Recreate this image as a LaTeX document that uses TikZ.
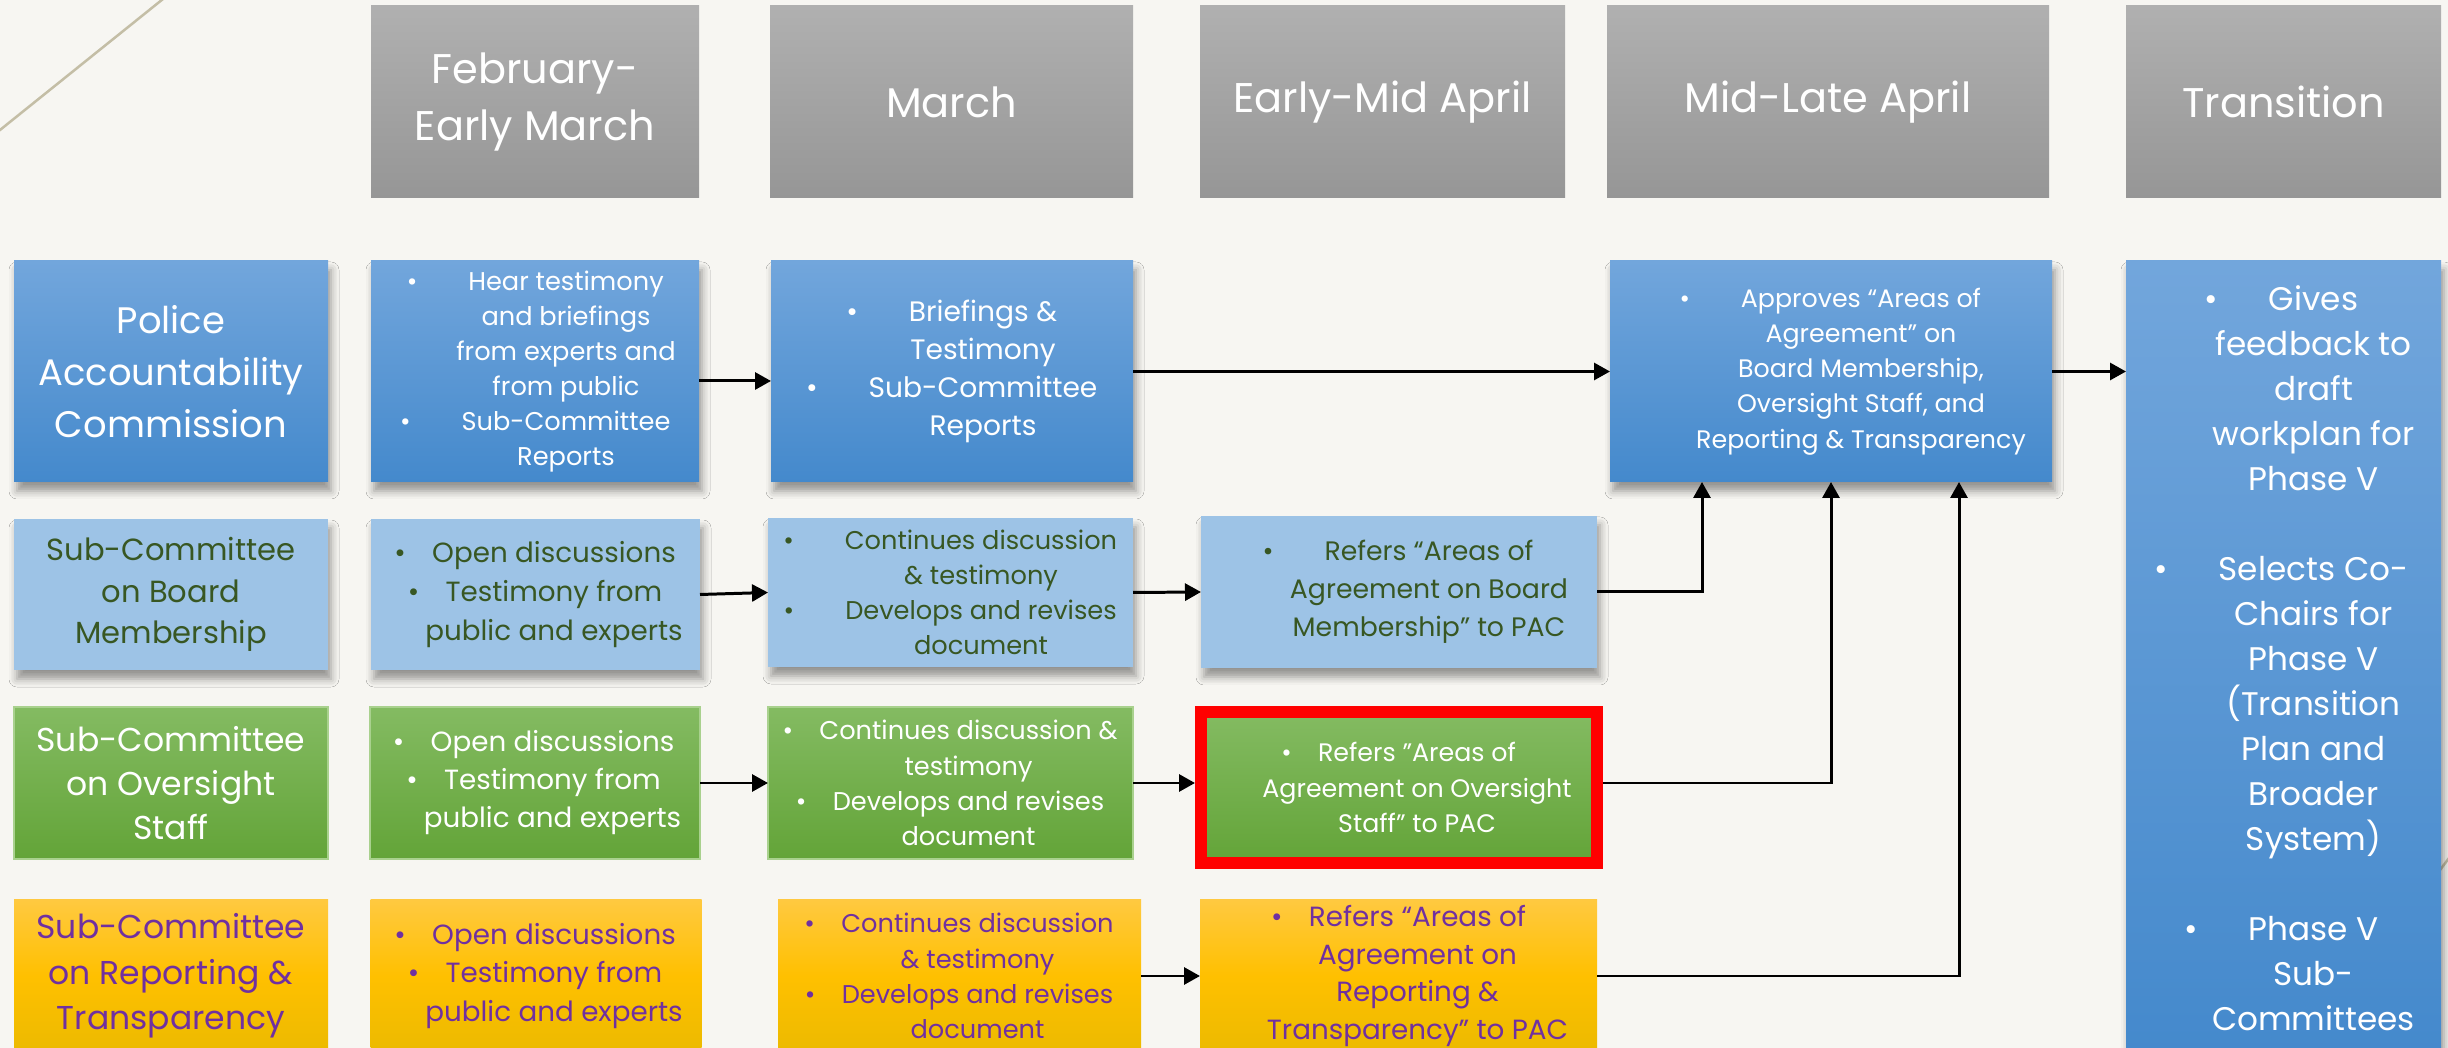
\documentclass[tikz,border=0pt]{standalone}
\usepackage{fontspec}
\setmainfont{Poppins}
\usetikzlibrary{arrows.meta,shadows.blur}

\definecolor{bgcol}{RGB}{247,246,242}
\definecolor{hdrtop}{RGB}{176,176,176}
\definecolor{hdrbot}{RGB}{150,150,150}
\definecolor{pactop}{RGB}{114,166,220}
\definecolor{pacbot}{RGB}{68,137,204}
\definecolor{boardfill}{RGB}{157,195,230}
\definecolor{boardtxt}{RGB}{56,87,35}
\definecolor{overtop}{RGB}{132,187,98}
\definecolor{overbot}{RGB}{99,164,56}
\definecolor{overline}{RGB}{169,209,142}
\definecolor{reptop}{RGB}{255,201,64}
\definecolor{repmid}{RGB}{255,192,0}
\definecolor{repbot}{RGB}{236,186,0}
\definecolor{reptxt}{RGB}{112,48,160}
\definecolor{decoline}{RGB}{196,190,166}

% bullets that hang left of a centred line
\newcommand{\bigbul}{\llap{\textbullet\hspace{14.5pt}}}
\newcommand{\smbul}{\llap{\textbullet\hspace{7.5pt}}}

\tikzset{
  box/.style={inner sep=0pt, outer sep=0pt},
  rowshadow/.style={blur shadow={shadow xshift=0.3mm, shadow yshift=-0.9mm, shadow blur radius=0.8mm, shadow opacity=40}},
  hdr/.style={box, top color=hdrtop, bottom color=hdrbot, text=white, align=center, font=\fontsize{11.8}{16.2}\selectfont, minimum height=19.2mm},
  pacbox/.style={box, top color=pactop, bottom color=pacbot, minimum height=22.1mm, rowshadow},
  boardbox/.style={box, fill=boardfill, rowshadow},
  overbox/.style={box, top color=overtop, bottom color=overbot, draw=overline, line width=0.3pt, minimum height=15.2mm},
  redbox/.style={top color=overtop, bottom color=overbot, draw=red, line width=1.2mm, inner sep=0pt, outer sep=0.6mm},
  repbox/.style={box, top color=reptop, bottom color=repbot, middle color=repmid, minimum height=15.2mm},
  wtxt/.style={text=white, align=center, inner sep=0pt},
  gtxt/.style={text=boardtxt, align=center, inner sep=0pt},
  ptxt/.style={text=reptxt, align=center, inner sep=0pt},
  link/.style={line width=0.85pt, -{Triangle[length=1.6mm, width=1.7mm]}},
}

\begin{document}
\begin{tikzpicture}[x=0.1mm, y=-0.1mm]
\useasboundingbox (0,0) rectangle (2448,1048);
\fill[bgcol] (0,0) rectangle (2448,1048);

% slide decoration
\draw[decoline, line width=0.25mm] (-5,134) -- (168,-5);
\draw[decoline, line width=0.25mm] (2380,950) -- (2470,830);

% time line
\node[hdr, minimum width=32.8mm] (hfeb) at (535,102) {February-\\Early March};
\node[hdr, minimum width=36.3mm] (hmar) at (951.5,102) {March};
\node[hdr, minimum width=36.5mm] (hearly) at (1382.5,102) {Early-Mid April};
\node[hdr, minimum width=44.2mm] (hlate) at (1828,102) {Mid-Late April};
\node[hdr, minimum width=31.5mm] (htrans) at (2283.5,102) {Transition};

% Police Accountability Commission
\node[pacbox, wtxt, minimum width=31.4mm, font=\fontsize{10.5}{14.7}\selectfont] (pac) at (171,371.5) {Police\\Accountability\\Commission};
\node[pacbox, minimum width=32.8mm, label={[wtxt, xshift=3.1mm, font=\fontsize{7.3}{10}\selectfont]center:{\bigbul Hear testimony\\and briefings\\from experts and\\from public\\\bigbul Sub-Committee\\Reports}}] (pacfeb) at (535,371.5) {};
\node[pacbox, minimum width=36.2mm, label={[wtxt, xshift=3.1mm, font=\fontsize{8}{10.8}\selectfont]center:{\bigbul Briefings \&\\Testimony\\\bigbul Sub-Committee\\Reports}}] (pacmar) at (952,371.5) {};
\node[pacbox, minimum width=44.2mm, label={[wtxt, xshift=3mm, font=\fontsize{7.2}{10}\selectfont]center:{\bigbul Approves “Areas of\\Agreement” on\\Board Membership,\\Oversight Staff, and\\Reporting \& Transparency}}] (paclate) at (1831,371.5) {};
\node[pacbox, minimum width=31.5mm, minimum height=79.5mm, label={[wtxt, xshift=3mm, font=\fontsize{9.3}{12.8}\selectfont]center:{\bigbul Gives\\feedback to\\draft\\workplan for\\Phase V\\[12.8pt]\bigbul Selects Co-\\Chairs for\\Phase V\\(Transition\\Plan and\\Broader\\System)\\[12.8pt]\bigbul Phase V\\Sub-\\Committees}}] (trans) at (2283.5,658.5) {};

% Sub-Committee on Board Membership
\node[boardbox, gtxt, minimum width=31.4mm, minimum height=15.1mm, font=\fontsize{8.7}{11.8}\selectfont] (board) at (171,594.5) {Sub-Committee\\on Board\\Membership};
\node[boardbox, minimum width=32.9mm, minimum height=15.1mm, label={[gtxt, xshift=1.85mm, font=\fontsize{7.9}{11.1}\selectfont]center:{\smbul Open discussions\\\smbul Testimony from\\public and experts}}] (boardfeb) at (535.5,594.5) {};
\node[boardbox, minimum width=36.5mm, minimum height=14.9mm, label={[gtxt, xshift=3.05mm, font=\fontsize{7.3}{10}\selectfont]center:{\bigbul Continues discussion\\\& testimony\\\bigbul Develops and revises\\document}}] (boardmar) at (950.5,592.5) {};
\node[boardbox, minimum width=39.6mm, minimum height=15.2mm, label={[gtxt, xshift=3mm, font=\fontsize{7.6}{10.8}\selectfont]center:{\bigbul Refers “Areas of\\Agreement on Board\\Membership” to PAC}}] (boardearly) at (1399,592) {};

% Sub-Committee on Oversight Staff
\node[overbox, wtxt, minimum width=31.4mm, font=\fontsize{9.4}{12.6}\selectfont] (over) at (171,783) {Sub-Committee\\on Oversight\\Staff};
\node[overbox, minimum width=33mm, label={[wtxt, xshift=1.75mm, font=\fontsize{7.9}{10.8}\selectfont]center:{\smbul Open discussions\\\smbul Testimony from\\public and experts}}] (overfeb) at (535,783) {};
\node[overbox, minimum width=36.5mm, label={[wtxt, xshift=1.8mm, font=\fontsize{7.3}{10}\selectfont]center:{\smbul Continues discussion \&\\testimony\\\smbul Develops and revises\\document}}] (overmar) at (950.5,783) {};
\node[redbox, minimum width=39.6mm, minimum height=15.1mm, label={[wtxt, xshift=1.8mm, font=\fontsize{7.2}{10}\selectfont]center:{\smbul Refers ”Areas of\\Agreement on Oversight\\Staff” to PAC}}] (overearly) at (1399,787.5) {};

% Sub-Committee on Reporting & Transparency
\node[repbox, ptxt, minimum width=31.4mm, font=\fontsize{9.4}{13}\selectfont] (rep) at (171,976) {Sub-Committee\\on Reporting \&\\Transparency};
\node[repbox, minimum width=33.1mm, label={[ptxt, xshift=1.8mm, font=\fontsize{7.9}{10.9}\selectfont]center:{\smbul Open discussions\\\smbul Testimony from\\public and experts}}] (repfeb) at (536,976) {};
\node[repbox, minimum width=36.3mm, label={[ptxt, xshift=1.8mm, font=\fontsize{7.3}{10}\selectfont]center:{\smbul Continues discussion\\\& testimony\\\smbul Develops and revises\\document}}] (repmar) at (959.5,976) {};
\node[repbox, minimum width=39.7mm, label={[ptxt, xshift=1.9mm, font=\fontsize{7.9}{10.8}\selectfont]center:{\smbul Refers “Areas of\\Agreement on\\Reporting \&\\Transparency” to PAC}}] (repearly) at (1398.5,976) {};

% flow
\draw[link] ([yshift=-0.95mm]pacfeb.east) -- ([yshift=-0.95mm]pacmar.west);
\draw[link] (pacmar.east) -- (paclate.west);
\draw[link] (paclate.east) -- (paclate.east -| trans.west);
\draw[link] (boardfeb.east) -- (boardmar.west);
\draw[link] (boardmar.east) -- (boardearly.west);
\draw[link] (boardearly.east) -| ([xshift=-12.9mm]paclate.south);
\draw[link] (overfeb.east) -- (overmar.west);
\draw[link] (overmar.east) -- (overmar.east -| overearly.west);
\draw[link] (overmar.east -| overearly.east) -| (paclate.south);
\draw[link] (repmar.east) -- (repearly.west);
\draw[link] (repearly.east) -| ([xshift=12.8mm]paclate.south);
\end{tikzpicture}
\end{document}
